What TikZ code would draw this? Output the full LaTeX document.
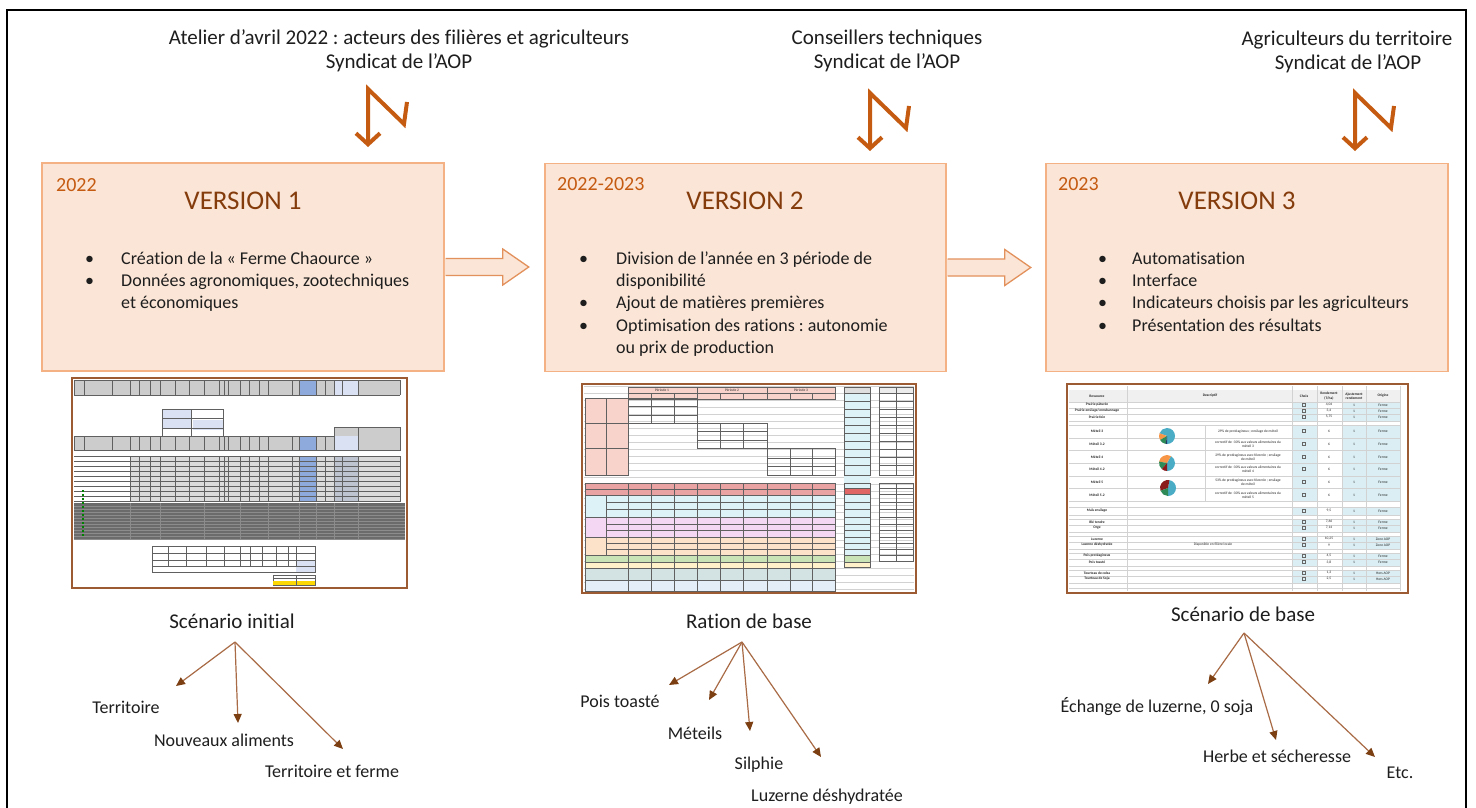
\documentclass[tikz,border=0pt]{standalone}
\usepackage{fontspec}
\setmainfont{Carlito}[Ligatures=NoCommon]
\frenchspacing
\usetikzlibrary{arrows.meta}
\definecolor{vfill}{HTML}{FBE5D6}
\definecolor{vborder}{HTML}{F4B183}
\definecolor{aborder}{HTML}{E3915C}
\definecolor{ora}{HTML}{C55A11}
\definecolor{brn}{HTML}{843C0C}
\definecolor{txt}{HTML}{1E1E1E}
\definecolor{lnk}{HTML}{A86B45}
\definecolor{lnkhead}{HTML}{7B3F12}
\definecolor{shotf}{HTML}{9C5B32}
\definecolor{hblue}{HTML}{8EA9DB}
\definecolor{lblue}{HTML}{D9E1F2}
\definecolor{pinkh}{HTML}{F8D3CB}
\definecolor{cyanr}{HTML}{DDF2F7}
\definecolor{redr}{HTML}{E9A3A3}
\definecolor{redc}{HTML}{E06666}
\definecolor{lavr}{HTML}{F3D7F3}
\definecolor{peachr}{HTML}{FBE2C9}
\definecolor{greenr}{HTML}{C9E3B6}
\definecolor{yellr}{HTML}{FFF1C9}
\definecolor{tealr}{HTML}{D3E3E3}
\definecolor{lbr}{HTML}{E3EEF8}
\definecolor{cy3}{HTML}{DAEEF3}
\definecolor{darkblk}{HTML}{6B6B6B}
\definecolor{pieA}{HTML}{4BACC6}
\definecolor{pieB}{HTML}{F79646}
\definecolor{pieC}{HTML}{2E8B57}
\definecolor{pieD}{HTML}{1F3864}
\definecolor{pieE}{HTML}{8B1A1A}
\tikzset{
  hdr/.style={font=\fontsize{18}{22}\selectfont, text=txt, inner sep=0pt, text height=13pt, text depth=4pt},
  top/.style={font=\fontsize{21}{25}\selectfont, text=txt, inner sep=0pt, text height=15pt, text depth=5pt},
  bul/.style={hdr, anchor=west},
  ttl/.style={font=\fontsize{27}{30}\selectfont, text=brn, inner sep=0pt},
  yr/.style={font=\fontsize{20}{24}\selectfont, text=ora, inner sep=0pt, anchor=west},
  big/.style={font=\fontsize{21}{25}\selectfont, text=txt, inner sep=0pt, text height=15pt, text depth=5pt},
  vbox/.style={draw=vborder, fill=vfill, line width=1.5pt, minimum width=402pt, minimum height=208pt, inner sep=0pt},
  blkfill/.style={fill=vfill},
  blkline/.style={draw=aborder, line width=1.3pt, line join=miter},
  zig/.style={draw=ora, line width=4pt, line join=miter, -{Straight Barb[length=11pt,width=24pt,line width=4pt]}},
  barrow/.style={draw=lnk, line width=1.2pt, -{Triangle[length=9pt,width=8pt,color=lnkhead]}},
  shot/.style={draw=shotf, line width=2pt},
  gl/.style={draw=gray!75!black, line width=0.4pt},
  fl/.style={draw=gray!35, line width=0.3pt},
  tiny/.style={font=\fontsize{3.6}{4.2}\selectfont, inner sep=0pt, text=black!85},
  tinyb/.style={tiny, font=\fontsize{3.6}{4.2}\selectfont\bfseries},
}
\begin{document}
\begin{tikzpicture}[x=1pt,y=-1pt]
\useasboundingbox (0,0) rectangle (1476,808);
\fill[white] (0,0) rectangle (1476,808);
% outer frame
\draw[black, line width=2pt] (6.5,808) -- (6.5,10.5) -- (1465.5,10.5) -- (1465.5,808);

% ---------- headers ----------
\node[top] (h1a) at (399,40) {Atelier d’avril 2022 : acteurs des filières et agriculteurs};
\node[top] (h1b) at (399,64) {Syndicat de l’AOP};
\node[top] (h2a) at (887,40) {Conseillers techniques};
\node[top] (h2b) at (887,64) {Syndicat de l’AOP};
\node[top] (h3a) at (1347,41) {Agriculteurs du territoire};
\node[top] (h3b) at (1348,65) {Syndicat de l’AOP};

% ---------- lightning arrows ----------
\foreach \tx/\ty in {368/89, 870/93, 1355/93}{
  \draw[zig] (\tx+39,\ty+13) -- (\tx+36,\ty+35) -- (\tx,\ty) -- (\tx,\ty+58);
}

% ---------- version boxes ----------
\node[vbox] (v1) at (243,267) {};
\node[vbox, minimum width=401pt] (v2) at (745.5,267.5) {};
\node[vbox] (v3) at (1247,267.5) {};

% block arrows
\foreach \b in {v1,v2}{
  \begin{scope}[shift={(\b.east)}]
    \fill[blkfill] (0,-8.5) -- (58,-8.5) -- (58,-18) -- (84,0) -- (58,18) -- (58,8.5) -- (0,8.5) -- cycle;
    \draw[blkline] (0.8,-8.5) -- (58,-8.5) -- (58,-18) -- (84,0) -- (58,18) -- (58,8.5) -- (0.8,8.5);
  \end{scope}
}

% box 1
\node[yr] (y1) at (56,185) {2022};
\node[ttl] (t1) at (243,201) {VERSION 1};
\node[bul] (b1a) at (85,260) {•};
\node[bul] (l1a) at (121,260) {Création de la « Ferme Chaource »};
\node[bul] (b1b) at (85,282) {•};
\node[bul] (l1b) at (121,282) {Données agronomiques, zootechniques};
\node[bul] (l1c) at (121,304) {et économiques};
% box 2
\node[yr] (y2) at (557,184) {2022-2023};
\node[ttl] (t2) at (745,201) {VERSION 2};
\node[bul] (b2a) at (579,260) {•};
\node[bul] (l2a) at (616,260) {Division de l’année en 3 période de};
\node[bul] (l2b) at (616,282) {disponibilité};
\node[bul] (b2c) at (579,304) {•};
\node[bul] (l2c) at (616,304) {Ajout de matières premières};
\node[bul] (b2d) at (579,327) {•};
\node[bul] (l2d) at (616,327) {Optimisation des rations : autonomie};
\node[bul] (l2e) at (616,349) {ou prix de production};
% box 3
\node[yr] (y3) at (1058,184) {2023};
\node[ttl] (t3) at (1237,201) {VERSION 3};
\node[bul] (b3a) at (1098,260) {•};
\node[bul] (l3a) at (1132,260) {Automatisation};
\node[bul] (b3b) at (1098,282) {•};
\node[bul] (l3b) at (1132,282) {Interface};
\node[bul] (b3c) at (1098,304) {•};
\node[bul] (l3c) at (1132,304) {Indicateurs choisis par les agriculteurs};
\node[bul] (b3d) at (1098,327) {•};
\node[bul] (l3d) at (1132,327) {Présentation des résultats};

% ---------- screenshot 1 ----------
\begin{scope}
  \fill[white] (72,378) rectangle (407,588);
  \def\colsA{74,84,112,130,139,150,160,175,189,204,219,224,228,240,249,259,268,292,299,316,325,334,342,358,400}
  \fill[gray!40] (74,380) rectangle (400,395);
  \fill[hblue] (299,380) rectangle (316,395);
  \fill[lblue] (334,380) rectangle (358,395);
  \foreach \x in \colsA {\draw[gl] (\x,380) -- (\x,395);}
  \draw[gl] (74,380) -- (400,380) (74,395) -- (400,395);
  \fill[lblue] (162,409) rectangle (191,428);
  \fill[lblue] (193,420) rectangle (223,430);
  \draw[gl] (162,409) rectangle (223,437);
  \draw[gl] (162,418) -- (223,418) (162,428) -- (223,428) (191,409) -- (191,437);
  \draw[gl, line width=0.8pt] (191,409) rectangle (223,437);
  \fill[gray!40] (334,427) rectangle (400,450);
  \draw[gl] (334,427) rectangle (400,450) (358,427) -- (358,450) (334,436) -- (358,436);
  \fill[gray!40] (74,436) rectangle (334,450);
  \fill[hblue] (299,436) rectangle (316,450);
  \fill[lblue] (334,436) rectangle (358,450);
  \foreach \x in {74,84,112,130,139,150,160,175,189,204,219,224,228,240,249,259,268,292,299,316,325,334} {\draw[gl] (\x,436) -- (\x,450);}
  \draw[gl] (74,436) -- (334,436) (74,450) -- (400,450);
  \fill[gray!28] (130,456) rectangle (400,502);
  \fill[hblue] (299,456) rectangle (316,502);
  \fill[lblue!70!gray] (334,456) rectangle (358,502);
  \foreach \y in {456,461,...,501} {\draw[gl, line width=0.25pt] (74,\y) -- (400,\y);}
  \foreach \x in {130,139,150,160,175,189,204,219,224,228,240,249,259,268,292,299,316,325,334,342,358,400} {\draw[gl, line width=0.25pt] (\x,456) -- (\x,502);}
  \fill[darkblk] (74,503) rectangle (405,539);
  \foreach \y in {506,509,...,539} {\draw[black!45, line width=0.3pt] (74,\y) -- (405,\y);}
  \foreach \x in {130,160,204,240,268,299,316,334,358} {\draw[black!45, line width=0.3pt] (\x,503) -- (\x,539);}
  \foreach \y in {490,494,...,536} {\fill[green!50!black] (82,\y) rectangle (84,\y+2);}
  \fill[lblue] (296,560) rectangle (315,572);
  \draw[gl] (152,546) rectangle (315,572);
  \draw[gl, line width=1pt] (152,546) -- (152,572);
  \foreach \y in {553,560,566} {\draw[gl, line width=0.3pt] (152,\y) -- (315,\y);}
  \foreach \x in {168,186,206,224,240,250,262,276,288,296} {\draw[gl, line width=0.3pt] (\x,546) -- (\x,566);}
  \draw[gl] (273,575) rectangle (315,585);
  \fill[yellow!75!orange] (273,581) rectangle (315,585);
  \draw[gl, line width=0.3pt] (273,578) -- (315,578) (296,575) -- (296,585);
  \draw[shot] (72,378) rectangle (407,588);
\end{scope}

% ---------- screenshot 2 ----------
\begin{scope}
  \fill[white] (582,384) rectangle (916,593);
  \foreach \y in {386,393,...,591} {\draw[fl] (584,\y) -- (914,\y);}
  \fill[pinkh] (628,387) rectangle (835,399);
  \draw[gl] (628,387) rectangle (835,399) (628,393) -- (835,393);
  \foreach \x in {697,767} {\draw[gl, line width=0.8pt] (\x,387) -- (\x,399);}
  \foreach \x in {651,674,720,743,790,812} {\draw[gl, line width=0.3pt] (\x,393) -- (\x,399);}
  \node[tiny] (p1) at (662,390) {Période 1};
  \node[tiny] (p2) at (732,390) {Période 2};
  \node[tiny] (p3) at (801,390) {Période 3};
  \foreach \a/\b in {398/423,423/448,448/475}{
    \fill[pinkh] (585,\a) rectangle (628,\b);
    \draw[gl, line width=0.8pt] (585,\a) rectangle (628,\b);
    \draw[gl, line width=0.3pt] (606,\a) -- (606,\b);
  }
  \draw[gl, line width=0.8pt] (628,398) rectangle (697,423);
  \draw[gl, line width=0.8pt] (697,423) rectangle (767,448);
  \draw[gl, line width=0.8pt] (767,448) rectangle (835,475);
  \draw[gl, line width=0.3pt] (651,398) -- (651,423) (674,398) -- (674,423) (628,406) -- (697,406) (628,415) -- (697,415);
  \draw[gl, line width=0.3pt] (720,423) -- (720,448) (743,423) -- (743,448) (697,431) -- (767,431) (697,440) -- (767,440);
  \draw[gl, line width=0.3pt] (790,448) -- (790,475) (812,448) -- (812,475) (767,458) -- (835,458) (767,466) -- (835,466);
  \foreach \a/\b/\c in {483/489/redr,489/495/redr,495/517/cyanr,517/537/lavr,537/555/peachr,555/562/greenr,562/568/yellr,568/580/tealr,580/591/lbr}{
    \fill[\c] (585,\a) rectangle (835,\b);
    \draw[gl, line width=0.8pt] (585,\a) rectangle (835,\b);
  }
  \foreach \y in {502,509,524,530,543,549} {\draw[gl, line width=0.3pt] (606,\y) -- (835,\y);}
  \foreach \x in {651,674,720,743,790,812} {\draw[gl, line width=0.3pt] (\x,483) -- (\x,591);}
  \foreach \x in {628,697,767} {\draw[gl, line width=0.8pt] (\x,483) -- (\x,591);}
  \draw[gl, line width=0.3pt] (606,495) -- (606,555);
  % right columns
  \fill[cyanr] (844,387) rectangle (870,555);
  \fill[redc] (844,488) rectangle (870,494);
  \fill[greenr] (844,555) rectangle (870,562);
  \fill[yellr] (844,562) rectangle (870,567);
  \fill[gray!25] (844,387) rectangle (870,393);
  \fill[gray!15] (879,387) rectangle (913,393);
  \foreach \y in {393,401,409,417,425,433,441,449,457,465} {\draw[gl, line width=0.3pt] (844,\y) -- (870,\y) (879,\y) -- (913,\y);}
  \foreach \y in {488,494,502,509,517,524,530,537,543,549,555,562} {\draw[gl, line width=0.3pt] (844,\y) -- (870,\y);}
  \foreach \y in {488,494,502,509,517,524,530,537,543,549,555} {\draw[gl, line width=0.3pt] (879,\y) -- (913,\y);}
  \draw[gl, line width=0.8pt] (844,387) rectangle (870,475) (844,483) rectangle (870,567);
  \draw[gl, line width=0.8pt] (879,387) rectangle (913,475) (879,483) rectangle (913,561);
  \draw[gl, line width=0.3pt] (896,387) -- (896,475) (896,483) -- (896,561);
  \draw[shot] (582,384) rectangle (916,593);
\end{scope}

% ---------- screenshot 3 ----------
\begin{scope}
  \fill[white] (1067,384) rectangle (1408,593);
  \fill[gray!12] (1069,390) rectangle (1400,402);
  \foreach \a/\b in {402/421,425/501,507/515,519/532,536/549,553/566,570/583}{
    \fill[cy3] (1292,\a) rectangle (1317,\b);
    \fill[cy3] (1342,\a) rectangle (1400,\b);
  }
  \foreach \x in {1127,1292,1317,1342,1366,1400} {\draw[fl] (\x,386) -- (\x,591);}
  \draw[fl] (1205,425) -- (1205,501);
  \foreach \y in {402,408,414,421,425,438,450,463,476,488,501,507,515,519,525,532,536,542,549,553,559,566,570,576,583,588} {\draw[fl] (1069,\y) -- (1400,\y);}
  \node[tinyb] (c1) at (1097,396) {Ressource};
  \node[tinyb] (c2) at (1210,396) {Descriptif};
  \node[tinyb] (c3) at (1304,396) {Choix};
  \node[tinyb, align=center] (c4) at (1329,396) {Rendement\\(T/ha)};
  \node[tinyb, align=center] (c5) at (1354,396) {Ajustement\\rendement};
  \node[tinyb] (c6) at (1383,396) {Origine};
  \foreach \nm/\yy/\rd/\og in {Prairie pâturée/405/{4,04}/Ferme, {Prairie ensilage\slash enrubannage}/411/{3,4}/Ferme, Prairie foin/417/{5,75}/Ferme, Méteil 3/431/6/Ferme, Méteil 3.2/444/6/Ferme, Méteil 4/457/6/Ferme, Méteil 4.2/469/6/Ferme, Méteil 5/482/6/Ferme, Méteil 5.2/495/6/Ferme, Maïs ensilage/511/{9,5}/Ferme, Blé tendre/522/{7,66}/Ferme, Orge/528/{7,14}/Ferme, Luzerne/539/{10,25}/Zone AOP, Luzerne déshydratée/545/9/Zone AOP, Pois protéagineux/556/{4,5}/Ferme, Pois toasté/562/{3,8}/Ferme, Tourteau de colza/573/{1,3}/Hors AOP, Tourteau de Soja/579/{2,5}/Hors AOP}{
    \node[tinyb] at (1097,\yy) {\nm};
    \node[tiny] at (1329,\yy) {\rd};
    \node[tiny] at (1354,\yy) {1};
    \node[tiny] at (1383,\yy) {\og};
    \draw[black!60, line width=0.3pt] (1302.5,\yy-1.5) rectangle (1305.5,\yy+1.5);
  }
  \node[tiny] (d1) at (1248,432) {29\% de protéagineux ; ensilage de méteil};
  \node[tiny, align=center] (d2) at (1248,444) {correctif de -30\% aux valeurs alimentaires du\\méteil 3};
  \node[tiny, align=center] (d3) at (1248,457) {29\% de protéagineux avec féverole ; ensilage\\de méteil};
  \node[tiny, align=center] (d4) at (1248,469) {correctif de -30\% aux valeurs alimentaires du\\méteil 4};
  \node[tiny, align=center] (d5) at (1248,482) {53\% de protéagineux avec féverole ; ensilage\\de méteil};
  \node[tiny, align=center] (d6) at (1248,495) {correctif de -30\% aux valeurs alimentaires du\\méteil 5};
  \node[tiny] (d7) at (1213,545) {Disponible en filière locale};
  \begin{scope}[shift={(1167,436)}]
    \fill[pieA] (0,0) -- (90:8) arc[start angle=90,end angle=-160,radius=8] -- cycle;
    \fill[pieB] (0,0) -- (200:8) arc[start angle=200,end angle=150,radius=8] -- cycle;
    \fill[pieC] (0,0) -- (150:8) arc[start angle=150,end angle=100,radius=8] -- cycle;
    \fill[pieD] (0,0) -- (100:8) arc[start angle=100,end angle=90,radius=8] -- cycle;
  \end{scope}
  \begin{scope}[shift={(1167,463)}]
    \fill[pieA] (0,0) -- (90:8) arc[start angle=90,end angle=-60,radius=8] -- cycle;
    \fill[pieB] (0,0) -- (-60:8) arc[start angle=-60,end angle=-170,radius=8] -- cycle;
    \fill[pieC] (0,0) -- (190:8) arc[start angle=190,end angle=130,radius=8] -- cycle;
    \fill[pieE] (0,0) -- (130:8) arc[start angle=130,end angle=90,radius=8] -- cycle;
  \end{scope}
  \begin{scope}[shift={(1168,488)}]
    \fill[pieA] (0,0) -- (90:8) arc[start angle=90,end angle=-80,radius=8] -- cycle;
    \fill[pieE] (0,0) -- (-80:8) arc[start angle=-80,end angle=-200,radius=8] -- cycle;
    \fill[pieC] (0,0) -- (160:8) arc[start angle=160,end angle=90,radius=8] -- cycle;
  \end{scope}
  \draw[shot] (1067,384) rectangle (1408,593);
\end{scope}

% ---------- bottom scenarios ----------
\node[big] (s1) at (232,623) {Scénario initial};
\node[hdr] (o11) at (126,709) {Territoire};
\node[hdr] (o12) at (224,742) {Nouveaux aliments};
\node[hdr] (o13) at (332,773) {Territoire et ferme};
\coordinate (s1o) at (235,642);
\coordinate (e11) at (176,686);
\coordinate (e12) at (238,723);
\coordinate (e13) at (343,749);
\draw[barrow] (s1o) -- (e11);
\draw[barrow] (s1o) -- (e12);
\draw[barrow] (s1o) -- (e13);

\node[big] (s2) at (749,623) {Ration de base};
\node[hdr] (o21) at (620,703) {Pois toasté};
\node[hdr] (o22) at (695,735) {Méteils};
\node[hdr] (o23) at (759,765) {Silphie};
\node[hdr] (o24) at (827,797) {Luzerne déshydratée};
\coordinate (s2o) at (742,642);
\coordinate (e21) at (669,685);
\coordinate (e22) at (709,700);
\coordinate (e23) at (750,731);
\coordinate (e24) at (821,757);
\draw[barrow] (s2o) -- (e21);
\draw[barrow] (s2o) -- (e22);
\draw[barrow] (s2o) -- (e23);
\draw[barrow] (s2o) -- (e24);

\node[big] (s3) at (1243,616) {Scénario de base};
\node[hdr] (o31) at (1157,708) {Échange de luzerne, 0 soja};
\node[hdr] (o32) at (1277,758) {Herbe et sécheresse};
\node[hdr] (o33) at (1400,774) {Etc.};
\coordinate (s3o) at (1244,633);
\coordinate (e31) at (1208,684);
\coordinate (e32) at (1276,740);
\coordinate (e33) at (1375,757);
\draw[barrow] (s3o) -- (e31);
\draw[barrow] (s3o) -- (e32);
\draw[barrow] (s3o) -- (e33);
\end{tikzpicture}
\end{document}
